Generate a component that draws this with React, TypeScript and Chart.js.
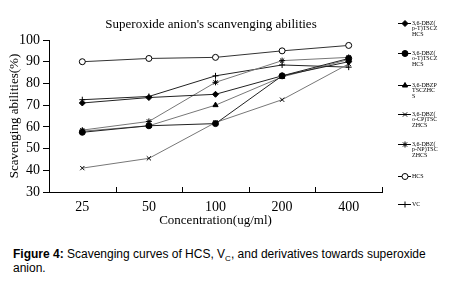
import React, { useEffect, useRef } from "react";
import { Chart, registerables } from "chart.js";
import { drawPoint } from "chart.js/helpers";

Chart.register(...registerables);

const categories = ["25", "50", "100", "200", "400"];
const yTicks = [30, 40, 50, 60, 70, 80, 90, 100];

const pT = [71, 73.5, 75, 83.5, 90];
const oT = [57.5, 60.5, 61.5, 83.5, 91.5];
const dbzp = [58, 60.5, 70, 83, 91];
const oCP = [41, 45.5, 62, 72.5, 89];
const pNP = [58.5, 62.5, 80.5, 90.5, 92];
const hcs = [90, 91.5, 92, 95, 97.5];
const vc = [72.5, 74, 83.5, 88.5, 87.5];

const seriesNames = [
  ["3,6-DBZ(", "p-T)TSCZ", "HCS"],
  ["3,6-DBZ(", "o-T)TSCZ", "HCS"],
  ["3,6-DBZP", "TSCZHC", "S"],
  ["3,6-DBZ(", "o-CP)TSC", "ZHCS"],
  ["3,6-DBZ(", "p-NP)TSC", "ZHCS"],
  ["HCS"],
  ["VC"],
];
const seriesData = [pT, oT, dbzp, oCP, pNP, hcs, vc];
const pointStyles = ["rectRot", "circle", "triangle", "crossRot", "star", "circle", "cross"];
const fills = ["#000", "#000", "#000", "#000", "#000", "#fff", "#000"];
const lineColors = ["#222", "#222", "#777", "#777", "#777", "#333", "#222"];
const legendY = [23, 53, 85, 114, 144, 176, 204];

const SERIF = "'Liberation Serif', 'Times New Roman', serif";

export default function App() {
  const ref = useRef<HTMLCanvasElement>(null);
  useEffect(() => {
    const canvas = ref.current!;
    const decor = {
      id: "decor",
      afterDraw(chart: any) {
        const ctx = chart.ctx;
        const area = chart.chartArea;
        ctx.save();
        // title
        ctx.fillStyle = "#000";
        ctx.font = `13px ${SERIF}`;
        ctx.textAlign = "center";
        ctx.textBaseline = "middle";
        ctx.fillText("Superoxide anion's scanvenging abilities", 211, 25);
        // inward x ticks at category boundaries
        ctx.strokeStyle = "#000";
        ctx.lineWidth = 1;
        const n = categories.length;
        for (let i = 0; i <= n; i++) {
          const x = Math.round(area.left + (i * (area.right - area.left)) / n) + 0.5;
          ctx.beginPath();
          ctx.moveTo(x, area.bottom);
          ctx.lineTo(x, area.bottom - 5);
          ctx.stroke();
        }
        // legend
        seriesNames.forEach((lines, i) => {
          const y = legendY[i];
          ctx.strokeStyle = "#000";
          ctx.lineWidth = 1;
          ctx.beginPath();
          ctx.moveTo(398, y + 0.5);
          ctx.lineTo(411, y + 0.5);
          ctx.stroke();
          ctx.fillStyle = fills[i];
          drawPoint(ctx, { pointStyle: pointStyles[i], radius: 3, borderWidth: 1 } as any, 405, y + 0.5);
          ctx.fillStyle = "#000";
          ctx.font = `6px ${SERIF}`;
          ctx.textAlign = "left";
          ctx.textBaseline = "middle";
          lines.forEach((t, k) => ctx.fillText(t, 412, y + k * 5.7));
        });
        ctx.restore();
      },
    };
    const chart = new Chart(canvas, {
      type: "line",
      data: {
        labels: categories,
        datasets: seriesData.map((d, i) => ({
          label: seriesNames[i].join(""),
          data: d,
          borderColor: lineColors[i],
          borderWidth: 1,
          pointStyle: pointStyles[i] as any,
          pointRadius: 3,
          pointBackgroundColor: fills[i],
          pointBorderColor: "#000",
          pointBorderWidth: 1,
          tension: 0,
          fill: false,
        })),
      },
      options: {
        animation: false,
        responsive: false,
        devicePixelRatio: 1,
        layout: { padding: { top: 40, right: 79, left: 0, bottom: 8 } },
        plugins: { legend: { display: false }, title: { display: false }, tooltip: { enabled: false } },
        scales: {
          x: {
            type: "category",
            offset: true,
            grid: { display: false, offset: true, drawTicks: false },
            border: { display: true, color: "#000", width: 1 },
            ticks: { color: "#000", font: { family: SERIF, size: 14 }, padding: 7, maxRotation: 0 },
            title: {
              display: true,
              text: "Concentration(ug/ml)",
              color: "#000",
              font: { family: SERIF, size: 13 },
              padding: { top: 2, bottom: 4 },
            },
            afterFit(scale: any) {
              scale.height = 40;
            },
          },
          y: {
            min: 30,
            max: 100,
            afterBuildTicks(scale: any) {
              scale.ticks = yTicks.map((v) => ({ value: v }));
            },
            grid: { drawOnChartArea: false, drawTicks: true, tickLength: 6, color: "#000" },
            border: { display: true, color: "#000", width: 1 },
            ticks: { color: "#000", font: { family: SERIF, size: 14 }, padding: 3 },
            title: {
              display: true,
              text: "Scavenging abilities(%)",
              color: "#000",
              font: { family: SERIF, size: 13 },
              padding: { top: 7, bottom: 2 },
            },
            afterFit(scale: any) {
              scale.width = 49;
            },
          },
        },
      },
      plugins: [decor],
    });
    return () => chart.destroy();
  }, []);

  return (
    <div style={{ position: "fixed", left: 0, top: 0, width: 461, height: 281, background: "#fff", overflow: "hidden" }}>
      <canvas ref={ref} width={461} height={240} style={{ display: "block", width: 461, height: 240 }} />
      <div
        style={{
          position: "absolute",
          left: 13,
          top: 247,
          width: 446,
          fontFamily: "'Liberation Sans', Arial, sans-serif",
          fontSize: 12,
          lineHeight: "14px",
          color: "#000",
        }}
      >
        <b>Figure 4:</b> Scavenging curves of HCS, V<sub style={{ fontSize: 8, lineHeight: 0 }}>C</sub>, and derivatives towards superoxide anion.
      </div>
    </div>
  );
}
